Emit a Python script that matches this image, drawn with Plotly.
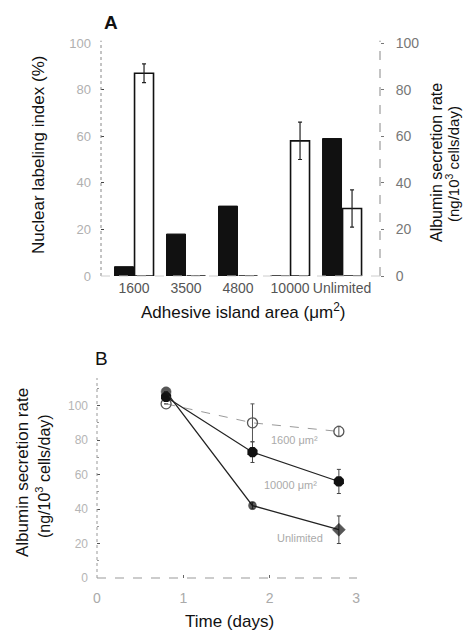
import plotly.graph_objects as go

# ---------------- Panel A data ----------------
areas = ["1600", "3500", "4800", "10000", "Unlimited"]
labeling_index = [4, 18, 30, 0, 59]          # filled bars, left axis (%)
albumin_rate = [87, 0, 0, 58, 29]            # open bars, right axis
albumin_err = [4, 0, 0, 8, 8]

# ---------------- Panel B data ----------------
days = [0.8, 1.8, 2.8]
rate_1600 = [101, 90, 85]
err_1600 = [0, 11, 3]
rate_10000 = [105, 73, 56]
err_10000 = [0, 6, 7]
rate_unlim = [108, 42, 28]
err_unlim = [0, 2, 8]
series_names = ["1600 μm²", "10000 μm²", "Unlimited"]

FONT = "Liberation Sans, Arial, sans-serif"

# page has an 8px body margin: figure is 464x623 placed at (8, 8)
OFF = 8
W, H = 472 - OFF, 631 - OFF
def px(x):
    return (x - OFF) / W
def py(y):
    return 1 - (y - OFF) / H

fig = go.Figure()

fig.add_trace(go.Bar(
    x=areas, y=labeling_index, name="Nuclear labeling index",
    marker=dict(color="#111111", line=dict(color="#111111", width=1)),
    offset=-0.375, width=0.365, xaxis="x", yaxis="y", showlegend=False))

fig.add_trace(go.Bar(
    x=areas, y=albumin_rate, name="Albumin secretion rate",
    marker=dict(color="white", line=dict(color="#111111", width=1.6)),
    error_y=dict(type="data", array=albumin_err, color="#222222", thickness=1.2, width=2),
    offset=0.01, width=0.365, xaxis="x", yaxis="y2", showlegend=False))

# Panel B lines
fig.add_trace(go.Scatter(
    x=days, y=rate_1600, name=series_names[0], mode="lines+markers",
    line=dict(color="#9a9a9a", width=1, dash="dash"),
    marker=dict(symbol="circle-open", size=10, color="#555555", line=dict(width=1.3)),
    error_y=dict(type="data", array=err_1600, color="#555555", thickness=1, width=2),
    xaxis="x2", yaxis="y3", showlegend=False))

fig.add_trace(go.Scatter(
    x=days, y=rate_10000, name=series_names[1], mode="lines+markers",
    line=dict(color="#222222", width=1.2),
    marker=dict(symbol="octagon", size=11, color="#111111"),
    error_y=dict(type="data", array=err_10000, color="#444444", thickness=1, width=2),
    xaxis="x2", yaxis="y3", showlegend=False))

fig.add_trace(go.Scatter(
    x=days, y=rate_unlim, name=series_names[2], mode="lines+markers",
    line=dict(color="#222222", width=1.3),
    marker=dict(symbol=["circle", "circle", "diamond"], size=[10, 8, 10], color="#111111",
                line=dict(color="#111111", width=0.5)),
    error_y=dict(type="data", array=err_unlim, color="#444444", thickness=1, width=2),
    xaxis="x2", yaxis="y3", showlegend=False))

def ax(size, color, **kw):
    d = dict(showgrid=False, zeroline=False, showline=False, automargin=False,
             tickfont=dict(family=FONT, size=size, color=color))
    d.update(kw)
    return d

fig.update_layout(
    template="none",
    width=W, height=H,
    margin=dict(l=0, r=0, t=0, b=0, pad=0),
    paper_bgcolor="white", plot_bgcolor="white",
    font=dict(family=FONT, color="#111111"),
    xaxis=ax(14, "#555555", domain=[px(101), px(380)], range=[-0.635, 4.73], type="category",
             anchor="y", ticks="", tickangle=0, ticklabelstandoff=2),
    yaxis=ax(13, "#b0b0b0", domain=[py(276), py(43)], range=[0, 100], dtick=20, anchor="x",
             ticks="inside", ticklen=3, tickcolor="#444444", ticklabelstandoff=9),
    yaxis2=ax(14, "#777777", overlaying="y", side="right", range=[0, 100], dtick=20, anchor="x",
              ticks="outside", ticklen=3, tickcolor="#777777", ticklabelstandoff=9),
    xaxis2=ax(14, "#aaaaaa", domain=[px(97), px(357)], range=[0, 3.01], dtick=1, anchor="y3",
              ticks="inside", ticklen=3, tickcolor="#666666", ticklabelstandoff=10),
    yaxis3=ax(12, "#b5b5b5", domain=[py(578), py(378)], range=[0, 116],
              tickvals=[0, 20, 40, 60, 80, 100], ticktext=["0", "20", "40", "60", "80", "100"],
              anchor="x2", ticks="inside", ticklen=3, tickcolor="#555555", ticklabelstandoff=8,
              minor=dict(ticks="inside", ticklen=2, dtick=10, tickcolor="#999999")),
)

# Axis lines (dashed, like the scanned original)
shapes = [
    dict(type="line", xref="x domain", yref="y domain", x0=0, x1=0, y0=0, y1=1.01,
         line=dict(color="#888888", width=1, dash="dot")),
    dict(type="line", xref="x domain", yref="y domain", x0=1, x1=1, y0=0, y1=1.01,
         line=dict(color="#888888", width=1, dash="dash")),
    dict(type="line", xref="x domain", yref="y domain", x0=0, x1=1, y0=0, y1=0,
         line=dict(color="#cccccc", width=1, dash="dash")),
    dict(type="line", xref="x2 domain", yref="y3 domain", x0=0, x1=0, y0=0, y1=1,
         line=dict(color="#999999", width=1, dash="dot")),
    dict(type="line", xref="x2 domain", yref="y3 domain", x0=0, x1=1, y0=0, y1=0,
         line=dict(color="#999999", width=1, dash="dash")),
]
fig.update_layout(shapes=shapes)

ann = []
def add(text, x, y, size, angle=0, color="#111111", xref="paper", yref="paper", bold=False):
    ann.append(dict(text=f"<b>{text}</b>" if bold else text, x=x, y=y, xref=xref, yref=yref,
                    showarrow=False, textangle=angle,
                    font=dict(family=FONT, size=size, color=color),
                    xanchor="center", yanchor="middle"))

add("A", px(111), py(22), 19, bold=True)
add("B", px(101), py(358), 19)
add("Nuclear labeling index (%)", px(38), py(155), 17, angle=-90)
add("Albumin secretion rate", px(436), py(163), 16, angle=-90)
add("(ng/10<sup>3</sup> cells/day)", px(452), py(164), 15, angle=-90)
add("Adhesive island area (μm<sup>2</sup>)", px(243), py(311), 17)
add("Albumin secretion rate", px(22), py(473), 17, angle=-90)
add("(ng/10<sup>3</sup> cells/day)", px(43), py(476), 16, angle=-90)
add("Time (days)", px(229), py(621), 17)
# series labels in panel B
add(series_names[0], 2.29, 80, 11, color="#aaaaaa", xref="x2", yref="y3")
add(series_names[1], 2.24, 54, 11, color="#aaaaaa", xref="x2", yref="y3")
add(series_names[2], 2.35, 23, 11, color="#aaaaaa", xref="x2", yref="y3")
fig.update_layout(annotations=ann)

fig.write_html("out.html")
